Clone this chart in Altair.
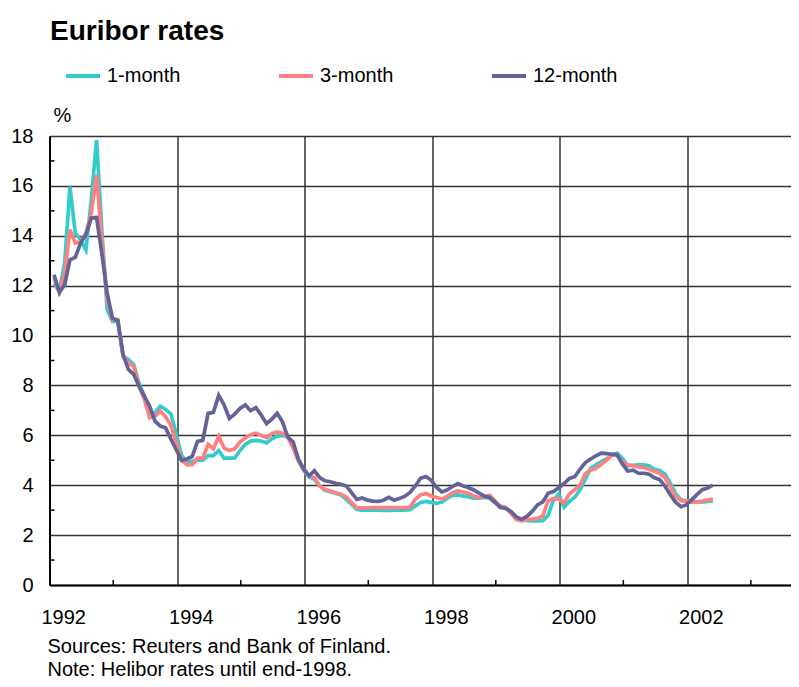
import altair as alt
import pandas as pd

# Monthly observations, Jan 1992 .. May 2002
one_month = [12.1, 11.77, 12.9, 15.97, 14.1, 13.84, 13.44, 15.4, 17.84, 14.24,
             11.04, 10.57, 10.57, 9.17, 9.04, 8.84, 8.1, 7.57, 6.84, 6.9,
             7.17, 7.04, 6.85, 6.05, 5.2, 4.92, 4.96, 5.01, 5.01, 5.19,
             5.19, 5.39, 5.09, 5.09, 5.09, 5.39, 5.64, 5.77, 5.8, 5.77,
             5.7, 5.86, 5.97, 6.0, 5.93, 5.59, 4.99, 4.58, 4.34, 4.24,
             3.97, 3.8, 3.74, 3.68, 3.61, 3.43, 3.23, 3.03, 3.0, 3.0,
             3.0, 3.0, 2.99, 2.99, 3.0, 3.0, 3.0, 3.02, 3.17, 3.31,
             3.35, 3.31, 3.27, 3.33, 3.48, 3.59, 3.61, 3.57, 3.53, 3.48,
             3.48, 3.51, 3.48, 3.31, 3.17, 3.11, 2.91, 2.64, 2.6, 2.59,
             2.57, 2.57, 2.58, 2.8, 3.4, 3.65, 3.12, 3.35, 3.52, 3.82,
             4.23, 4.68, 4.82, 4.95, 5.05, 5.22, 5.29, 5.07, 4.78, 4.8,
             4.82, 4.82, 4.78, 4.64, 4.59, 4.44, 4.07, 3.66, 3.41, 3.37,
             3.37, 3.33, 3.32, 3.35, 3.37]

three_month = [12.3, 11.75, 12.5, 14.24, 13.71, 13.77, 14.1, 14.9, 16.44, 13.84,
               11.44, 10.64, 10.64, 9.17, 8.9, 8.77, 7.97, 7.44, 6.71, 6.77,
               6.97, 6.75, 6.4, 5.7, 5.0, 4.82, 4.82, 5.09, 5.09, 5.64,
               5.46, 5.96, 5.5, 5.39, 5.46, 5.73, 5.89, 6.03, 6.09, 6.0,
               5.91, 6.07, 6.14, 6.09, 5.93, 5.5, 4.96, 4.61, 4.38, 4.31,
               3.97, 3.84, 3.77, 3.7, 3.64, 3.53, 3.3, 3.09, 3.09, 3.09,
               3.1, 3.1, 3.1, 3.1, 3.1, 3.1, 3.1, 3.11, 3.44, 3.61,
               3.67, 3.57, 3.51, 3.45, 3.55, 3.69, 3.77, 3.73, 3.67, 3.57,
               3.51, 3.55, 3.6, 3.37, 3.15, 3.11, 2.87, 2.63, 2.57, 2.63,
               2.64, 2.67, 2.77, 3.37, 3.46, 3.45, 3.3, 3.65, 3.82, 4.0,
               4.46, 4.6, 4.68, 4.84, 5.01, 5.21, 5.22, 4.91, 4.82, 4.78,
               4.73, 4.71, 4.64, 4.56, 4.48, 4.3, 3.92, 3.55, 3.39, 3.35,
               3.32, 3.33, 3.36, 3.4, 3.46]

twelve_month = [12.44, 11.73, 12.04, 13.04, 13.13, 13.71, 14.04, 14.71, 14.73, 13.3,
                11.7, 10.7, 10.6, 9.24, 8.64, 8.44, 7.97, 7.57, 7.17, 6.57,
                6.37, 6.3, 5.85, 5.42, 5.0, 5.05, 5.15, 5.76, 5.8, 6.88,
                6.92, 7.6, 7.22, 6.68, 6.85, 7.08, 7.22, 6.99, 7.11, 6.81,
                6.47, 6.65, 6.88, 6.54, 5.93, 5.73, 5.05, 4.65, 4.38, 4.58,
                4.31, 4.18, 4.14, 4.08, 4.04, 3.97, 3.7, 3.43, 3.49, 3.4,
                3.36, 3.35, 3.4, 3.51, 3.4, 3.47, 3.55, 3.71, 3.97, 4.28,
                4.35, 4.2, 3.91, 3.73, 3.81, 3.95, 4.07, 3.97, 3.91, 3.81,
                3.68, 3.56, 3.51, 3.31, 3.11, 3.07, 2.95, 2.73, 2.64, 2.75,
                2.95, 3.21, 3.33, 3.68, 3.75, 3.9, 4.07, 4.27, 4.34, 4.64,
                4.91, 5.05, 5.18, 5.29, 5.27, 5.24, 5.21, 4.84, 4.57, 4.6,
                4.48, 4.48, 4.44, 4.3, 4.23, 3.96, 3.62, 3.32, 3.14, 3.21,
                3.41, 3.62, 3.82, 3.89, 4.0]

series_names = ["1-month", "3-month", "12-month"]
series_colors = ["#33cccc", "#ff8080", "#636399"]
year_labels = [1992, 1994, 1996, 1998, 2000, 2002]
minor_years = [1993, 1995, 1997, 1999, 2001, 2003]
y_major = [0, 2, 4, 6, 8, 10, 12, 14, 16, 18]
y_minor = [1, 3, 5, 7, 9, 11, 13, 15, 17]
start_year = 1992
month_pos = 0.85  # position of each monthly observation within its month slot

rows = []
for name, vals in zip(series_names, [one_month, three_month, twelve_month]):
    for k, v in enumerate(vals):
        rows.append({"t": start_year + (k + month_pos) / 12.0, "v": v, "series": name})
df = pd.DataFrame(rows)

FONT = "Liberation Sans"
W, H = 741.5, 449

xscale = alt.Scale(domain=[1992, 2003.63], nice=False, zero=False)
yscale = alt.Scale(domain=[0, 18], nice=False)

xaxis = alt.Axis(
    values=year_labels, format="d", grid=True, gridColor="#333333", gridWidth=1.5,
    domain=True, domainColor="black", domainWidth=2, ticks=False, tickSize=0,
    labelAlign="left", labelOffset=-8.5, labelBaseline="alphabetic", labelPadding=38,
    labelFontSize=20, labelFont=FONT, labelColor="black", labelFlush=False,
    title=["Sources: Reuters and Bank of Finland.", "Note: Helibor rates until end-1998."],
    titleX=-2.5, titleY=67, titleAlign="left", titleBaseline="alphabetic",
    titleLineHeight=23.5, titleFontSize=20, titleFont=FONT, titleFontWeight="normal",
    titleColor="black", labelOverlap=False,
)
yaxis = alt.Axis(
    values=y_major, grid=True, gridColor="#333333", gridWidth=1.5,
    domain=True, domainColor="black", domainWidth=2, ticks=False, tickSize=0,
    labelPadding=16.5, labelFontSize=20, labelFont=FONT, labelColor="black",
    labelFlush=False, labelOverlap=False,
    title="%", titleAngle=0, titleX=3.5, titleY=-15, titleAlign="left",
    titleBaseline="alphabetic", titleFontSize=20, titleFont=FONT,
    titleFontWeight="normal", titleColor="black",
)

lines = alt.Chart(df).mark_line(strokeWidth=3.7).encode(
    x=alt.X("t:Q", scale=xscale, axis=xaxis),
    y=alt.Y("v:Q", scale=yscale, axis=yaxis),
    color=alt.Color(
        "series:N",
        scale=alt.Scale(domain=series_names, range=series_colors),
        sort=series_names,
        legend=alt.Legend(
            title=None, orient="none", legendX=14.5, legendY=-79, direction="horizontal",
            symbolType="stroke", symbolSize=1156, symbolStrokeWidth=4,
            labelFontSize=20, labelFont=FONT, labelColor="black", labelOffset=5,
            columnPadding=90, padding=0, labelLimit=300,
        ),
    ),
    order=alt.Order("series_order:Q"),
).transform_calculate(
    series_order="indexof(['1-month','3-month','12-month'], datum.series)"
)

xticks = alt.Chart(pd.DataFrame({"t": minor_years})).mark_rule(
    color="black", strokeWidth=1.5
).encode(
    x=alt.X("t:Q", scale=xscale, axis=xaxis),
    y=alt.value(H), y2=alt.value(H - 5),
)
yticks = alt.Chart(pd.DataFrame({"v": y_minor})).mark_rule(
    color="black", strokeWidth=1.5
).encode(
    y=alt.Y("v:Q", scale=yscale, axis=yaxis),
    x=alt.value(0), x2=alt.value(5),
)

chart = alt.layer(xticks, yticks, lines).properties(
    width=W, height=H,
    autosize=alt.AutoSizeParams(type="none"),
    padding={"left": 41.5, "top": 128, "right": 0, "bottom": 94},
    title=alt.TitleParams(
        text="Euribor rates", anchor="start", frame="group", fontSize=28,
        font=FONT, fontWeight="bold", color="black", offset=20, dx=0.5, dy=31,
        baseline="alphabetic",
    ),
).configure_view(stroke=None).configure(background="white")

chart.save("out.html", embed_options={"renderer": "svg", "actions": False})
